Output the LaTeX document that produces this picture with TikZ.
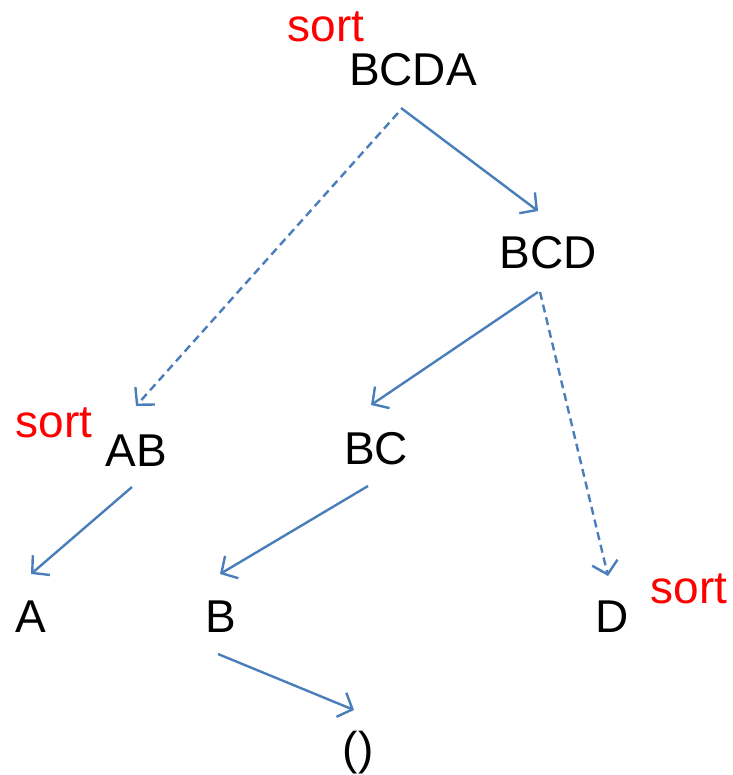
\documentclass[tikz,border=0pt]{standalone}
\usepackage{fontspec}
\setmainfont{Liberation Sans}
\usetikzlibrary{arrows.meta}
\definecolor{edgeblue}{HTML}{4A7EBB}
\begin{document}
\begin{tikzpicture}[x=1pt,y=-1pt,
  lbl/.style={anchor=base,inner sep=0pt,font=\fontsize{46}{54}\selectfont},
  srt/.style={lbl,text=red},
  edge/.style={draw=edgeblue,line width=2.4pt,-{Straight Barb[length=12pt,width=26pt,line width=2.4pt]}},
  dedge/.style={edge,dash pattern=on 8pt off 5pt}]
\useasboundingbox (0,0) rectangle (732,775);
\node[srt] (s1) at (326,42) {sort};
\node[lbl] (bcda) at (413,86) {BCDA};
\node[lbl] (bcd) at (548,269) {BCD};
\node[srt] (s2) at (54,437) {sort};
\node[lbl] (ab) at (136,466) {AB};
\node[lbl] (bc) at (376,464) {BC};
\node[lbl] (a) at (31,632) {A};
\node[lbl] (b) at (221,632) {B};
\node[lbl] (d) at (612,632) {D};
\node[srt] (s3) at (689,603) {sort};
\node[lbl] (e) at (358,764) {()};
\coordinate (p1) at (401,108); \coordinate (q1) at (538,211);
\coordinate (p2) at (398,113); \coordinate (q2) at (136,406);
\coordinate (p3) at (538,292); \coordinate (q3) at (371,405);
\coordinate (p4) at (540,292); \coordinate (q4) at (608,576);
\coordinate (p5) at (132,487); \coordinate (q5) at (31,574);
\coordinate (p6) at (368,486); \coordinate (q6) at (220,574);
\coordinate (p7) at (218,654); \coordinate (q7) at (354,710);
\draw[edge] (p1) -- (q1);
\draw[dedge] (p2) -- (q2);
\draw[edge] (p3) -- (q3);
\draw[dedge] (p4) -- (q4);
\draw[edge] (p5) -- (q5);
\draw[edge] (p6) -- (q6);
\draw[edge] (p7) -- (q7);
\end{tikzpicture}
\end{document}
